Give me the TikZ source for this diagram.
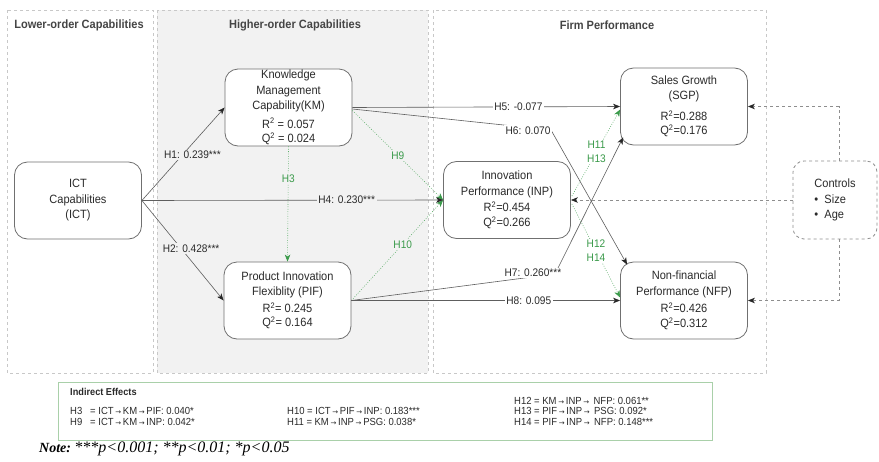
\documentclass[tikz,border=0pt]{standalone}
\usepackage{fontspec}
\setmainfont{Liberation Sans}[FakeStretch=0.92]
\newfontfamily\notefont{Liberation Serif}
\newfontfamily\arrfont{DejaVu Sans}
\usetikzlibrary{arrows.meta}
\definecolor{panelline}{HTML}{C8C8C8}
\definecolor{panelfill}{HTML}{F2F2F2}
\definecolor{boxline}{HTML}{707070}
\definecolor{arrline}{HTML}{5E5E5E}
\definecolor{grn}{HTML}{3A9A4A}
\definecolor{grnline}{HTML}{5FAF6C}
\definecolor{titlecol}{HTML}{454545}
\definecolor{txt}{HTML}{2A2A2A}
\definecolor{effline}{HTML}{A9D0A9}
\definecolor{ctrlline}{HTML}{8E8E8E}
\newcommand{\effarr}{\,{\arrfont\fontsize{7}{7}\selectfont →}\,}
\begin{document}
\begin{tikzpicture}[x=1pt,y=-1pt,
  panel/.style={draw=panelline, dashed, line width=0.6pt},
  cbox/.style={draw=boxline, fill=white, rounded corners=13pt, line width=0.8pt,
    minimum width=127pt, minimum height=77pt, align=center, inner sep=1pt,
    font=\fontsize{12}{15.5}\selectfont, text=txt},
  ctrlbox/.style={draw=ctrlline, fill=white, dashed, rounded corners=11pt, line width=0.8pt,
    minimum width=84pt, minimum height=78pt, align=left, inner sep=1pt,
    font=\fontsize{12}{15.5}\selectfont, text=txt},
  ptitle/.style={font=\fontsize{12}{14}\selectfont\bfseries, text=titlecol},
  dir/.style={draw=arrline, line width=0.6pt, -{Stealth[length=7pt,width=5.5pt,inset=2pt,color=black!85]}},
  ind/.style={draw=grnline, dash pattern=on 0.8pt off 1.6pt, line width=0.6pt, -{Stealth[length=7pt,width=5.5pt,inset=2pt,color=grn]}},
  ctrl/.style={draw=ctrlline, dashed, line width=0.7pt, -{Stealth[length=7pt,width=5.5pt,inset=2pt,color=black!85]}},
  lbl/.style={font=\fontsize{11}{13}\selectfont, text=txt, inner sep=1.5pt},
  glbl/.style={font=\fontsize{11}{13.5}\selectfont, text=grn, inner sep=1.5pt, align=center},
  efft/.style={font=\fontsize{10.3}{12}\selectfont, text=txt, anchor=west, inner sep=0pt}
]
\useasboundingbox (0,0) rectangle (879,461);
\fill[white] (0,0) rectangle (879,461);

% panels
\draw[panel] (7,10) rectangle (153,373);
\draw[panel, fill=panelfill] (157,10) rectangle (428,373);
\draw[panel] (433,10) rectangle (766,373);
\node[ptitle] (t1) at (79,25) {Lower-order Capabilities};
\node[ptitle] (t2) at (295,25) {Higher-order Capabilities};
\node[ptitle] (t3) at (607,25) {Firm Performance};

% constructs
\node[cbox] (ict) at (78,200.5) {ICT\\Capabilities\\(ICT)};
\node[cbox] (km) at (288.5,107.5) {Knowledge\\Management\\Capability(KM)\\[3pt]R\textsuperscript{2} = 0.057\\[-1pt]Q\textsuperscript{2} = 0.024};
\node[cbox] (pif) at (287.5,300.5) {Product Innovation\\Flexiblity (PIF)\\[1pt]R\textsuperscript{2}= 0.245\\[-1pt]Q\textsuperscript{2}= 0.164};
\node[cbox] (sgp) at (684,106.5) {Sales Growth\\(SGP)\\[5pt]R\textsuperscript{2}=0.288\\[-1pt]Q\textsuperscript{2}=0.176};
\node[cbox] (inp) at (507,200) {Innovation\\Performance (INP)\\[1pt]R\textsuperscript{2}=0.454\\[-1pt]Q\textsuperscript{2}=0.266};
\node[cbox] (nfp) at (684,300.5) {Non-financial\\Performance (NFP)\\[2pt]R\textsuperscript{2}=0.426\\[-1pt]Q\textsuperscript{2}=0.312};
\node[ctrlbox] (controls) at (835,200) {Controls\\\textbullet\ \ Size\\\textbullet\ \ Age};

% indirect (green dotted)
\draw[ind] (km.south) -- node[glbl, fill=panelfill, pos=0.28] {H3} (pif.north);
\draw[ind] ([shift={(0,3)}]km.east) -- node[glbl, fill=panelfill, pos=0.5] {H9} (inp.west);
\draw[ind] (pif.east) -- node[glbl, fill=panelfill, pos=0.56] {H10} (inp.west);
\draw[ind] ([shift={(1,-4)}]inp.east) -- node[glbl, fill=white, pos=0.51] {H11\\H13} ([shift={(0,3)}]sgp.west);
\draw[ind] ([shift={(1,4)}]inp.east) -- node[glbl, fill=white, pos=0.5] {H12\\H14} ([shift={(0,-3)}]nfp.west);

% direct paths
\draw[dir] (ict.east) -- node[lbl, fill=panelfill, pos=0.49, xshift=10pt] {H1: 0.239***} (km.west);
\draw[dir] (ict.east) -- node[lbl, fill=panelfill, pos=0.48, xshift=10pt] {H2: 0.428***} (pif.west);
\draw[dir] (ict.east) -- node[lbl, fill=panelfill, pos=0.68] {H4: 0.230***} (inp.west);
\draw[dir] (km.east) -- node[lbl, fill=white, pos=0.62] {H5: -0.077} (sgp.west);
\coordinate (h6) at (551,130);
\draw[dir] ([shift={(0,1.5)}]km.east) -- (h6) -- ([shift={(7,3)}]nfp.north west);
\node[lbl, fill=white] (h6l) at (528,130.5) {H6: 0.070};
\coordinate (h7) at (555,274);
\draw[dir] (pif.east) -- (h7) -- ([shift={(3,-8)}]sgp.south west);
\node[lbl, fill=white] (h7l) at (533,273) {H7: 0.260***};
\draw[dir] (pif.east) -- node[lbl, fill=white, pos=0.66] {H8: 0.095} (nfp.west);

% controls
\draw[ctrl] ([xshift=4pt]controls.north) |- (sgp.east);
\draw[ctrl] (controls.west) -- (inp.east);
\draw[ctrl] ([xshift=4pt]controls.south) |- (nfp.east);

% indirect effects box
\node[draw=effline, line width=0.8pt, minimum width=654pt, minimum height=58pt, inner sep=0pt] (eff) at (385,411) {};
\node[efft, font=\fontsize{10}{12}\selectfont\bfseries] (efftitle) at (70,392) {Indirect Effects};
\node[efft] (e3) at (70,411) {H3\ \ \ = ICT\effarr KM\effarr PIF: 0.040*};
\node[efft] (e9) at (70,422) {H9\ \ \ = ICT\effarr KM\effarr INP: 0.042*};
\node[efft] (e10) at (287,411) {H10 = ICT\effarr PIF\effarr INP: 0.183***};
\node[efft] (e11) at (287,422) {H11 = KM\effarr INP\effarr PSG: 0.038*};
\node[efft] (e12) at (514,401) {H12 = KM\effarr INP\effarr \ NFP: 0.061**};
\node[efft] (e13) at (514,411) {H13 = PIF\effarr INP\effarr \ PSG: 0.092*};
\node[efft] (e14) at (514,422) {H14 = PIF\effarr INP\effarr \ NFP: 0.148***};

% note
\node[anchor=west, inner sep=0pt, text=black] (note) at (39,449)
  {{\notefont\fontsize{14}{15}\selectfont\bfseries\itshape Note:} {\notefont\fontsize{16}{16}\selectfont\itshape ***p<0.001; **p<0.01; *p<0.05}};
\end{tikzpicture}
\end{document}
